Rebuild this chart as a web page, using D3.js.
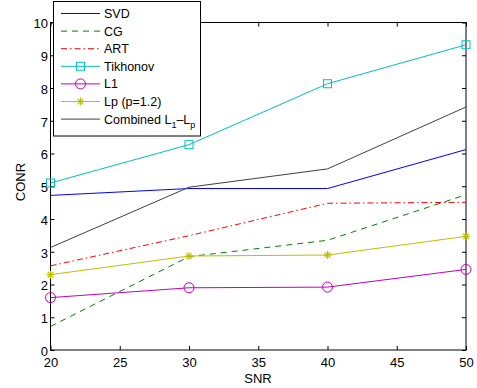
<!DOCTYPE html>
<html>
<head>
<meta charset="utf-8">
<script src="https://cdn.jsdelivr.net/npm/d3@7"></script>
<style>
  html, body { margin: 0; padding: 0; background: #fff; }
  svg { display: block; font-family: "Liberation Sans", Arial, Helvetica, sans-serif; }
</style>
</head>
<body>
<svg id="chart" width="477" height="388"></svg>
<script>
// SNR levels on the x axis
const snr = [20, 30, 40, 50];

// CONR per method at each SNR level
const svd = [4.72, 4.93, 4.93, 6.12];
const cg = [0.72, 2.85, 3.35, 4.74];
const art = [2.57, 3.49, 4.48, 4.51];
const tikhonov = [5.1, 6.27, 8.13, 9.32];
const l1 = [1.6, 1.9, 1.92, 2.46];
const lp = [2.3, 2.87, 2.9, 3.47];
const combined = [3.13, 4.97, 5.53, 7.42];

const xTicks = [20, 25, 30, 35, 40, 45, 50];
const yTicks = [0, 1, 2, 3, 4, 5, 6, 7, 8, 9, 10];

const series = [
  { name: "SVD", values: svd, color: "#0000ff", dash: null, marker: null },
  { name: "CG", values: cg, color: "#008000", dash: "6,5", marker: null },
  { name: "ART", values: art, color: "#ff0000", dash: "6,3,1.5,3", marker: null },
  { name: "Tikhonov", values: tikhonov, color: "#00bfbf", dash: null, marker: "square" },
  { name: "L1", values: l1, color: "#bf00bf", dash: null, marker: "circle" },
  { name: "Lp (p=1.2)", values: lp, color: "#bfbf00", dash: null, marker: "star" },
  { name: "Combined", values: combined, color: "#404040", dash: null, marker: null }
];

const svg = d3.select("#chart");
const plotLeft = 50.5, plotRight = 466, plotTop = 22.5, plotBottom = 350;

const x = d3.scaleLinear().domain([20, 50]).range([plotLeft, plotRight]);
const y = d3.scaleLinear().domain([0, 10]).range([plotBottom, plotTop]);

// inward ticks on all four sides
const tickLen = 4;
const axisStyle = g => {
  g.select(".domain").remove();
  g.selectAll("line").attr("stroke", "#000");
  g.selectAll("text").attr("font-size", 13).attr("fill", "#000");
};
svg.append("g").attr("transform", `translate(0,${plotBottom})`)
  .call(d3.axisBottom(x).tickValues(xTicks).tickSize(-tickLen).tickPadding(8).tickFormat(d3.format("d")))
  .call(axisStyle);
svg.append("g").attr("transform", `translate(0,${plotTop})`)
  .call(d3.axisTop(x).tickValues(xTicks).tickSize(-tickLen).tickFormat(""))
  .call(axisStyle);
svg.append("g").attr("transform", `translate(${plotLeft},0)`)
  .call(d3.axisLeft(y).tickValues(yTicks).tickSize(-tickLen).tickPadding(2.5).tickFormat(d3.format("d")))
  .call(axisStyle)
  .call(g => g.selectAll("text").attr("dy", "0.42em"));
svg.append("g").attr("transform", `translate(${plotRight},0)`)
  .call(d3.axisRight(y).tickValues(yTicks).tickSize(-tickLen).tickFormat(""))
  .call(axisStyle);

svg.append("rect")
  .attr("x", plotLeft).attr("y", plotTop)
  .attr("width", plotRight - plotLeft).attr("height", plotBottom - plotTop)
  .attr("fill", "none").attr("stroke", "#000").attr("stroke-width", 1);

// axis titles
svg.append("text").attr("x", 258).attr("y", 383)
  .attr("text-anchor", "middle").attr("font-size", 13).text("SNR");
svg.append("text")
  .attr("transform", "translate(25,182) rotate(-90)")
  .attr("text-anchor", "middle").attr("font-size", 13).text("CONR");

function drawMarker(g, kind, cx, cy, color) {
  if (kind === "square") {
    g.append("rect").attr("x", cx - 4).attr("y", cy - 4).attr("width", 8).attr("height", 8)
      .attr("fill", "none").attr("stroke", color).attr("stroke-width", 1);
  } else if (kind === "circle") {
    g.append("circle").attr("cx", cx).attr("cy", cy).attr("r", 5)
      .attr("fill", "none").attr("stroke", color).attr("stroke-width", 1);
  } else if (kind === "star") {
    const r = 4;
    [[0, 1], [1, 0], [0.7071, 0.7071], [0.7071, -0.7071]].forEach(([dx, dy]) => {
      g.append("line")
        .attr("x1", cx - dx * r).attr("y1", cy - dy * r)
        .attr("x2", cx + dx * r).attr("y2", cy + dy * r)
        .attr("stroke", color).attr("stroke-width", 1.2);
    });
  }
}

const line = d3.line().x((d, i) => x(snr[i])).y(d => y(d));
const plot = svg.append("g");
series.forEach(s => {
  plot.append("path").datum(s.values)
    .attr("d", line)
    .attr("fill", "none")
    .attr("stroke", s.color)
    .attr("stroke-width", 1)
    .attr("stroke-dasharray", s.dash);
  if (s.marker) {
    s.values.forEach((v, i) => drawMarker(plot, s.marker, x(snr[i]), y(v), s.color));
  }
});

// legend box
const lg = svg.append("g");
lg.append("rect").attr("x", 53.5).attr("y", 1.5).attr("width", 147).attr("height", 134.5)
  .attr("fill", "#fff").attr("stroke", "#000").attr("stroke-width", 1);
const rowY = i => 13.5 + i * 17.6;
series.forEach((s, i) => {
  const yy = rowY(i);
  lg.append("line").attr("x1", 61).attr("x2", 100).attr("y1", yy).attr("y2", yy)
    .attr("stroke", s.color).attr("stroke-width", 1).attr("stroke-dasharray", s.dash);
  if (s.marker) drawMarker(lg, s.marker, 80.5, yy, s.color);
  const t = lg.append("text").attr("x", 104).attr("y", yy + 4.5).attr("font-size", 12.5).attr("fill", "#000");
  if (s.name === "Combined") {
    t.append("tspan").text("Combined L");
    t.append("tspan").attr("dy", 4).attr("font-size", 9).text("1");
    t.append("tspan").attr("dy", -4).text("\u2013L");
    t.append("tspan").attr("dy", 4).attr("font-size", 9).text("p");
  } else {
    t.text(s.name);
  }
});
</script>
</body>
</html>
